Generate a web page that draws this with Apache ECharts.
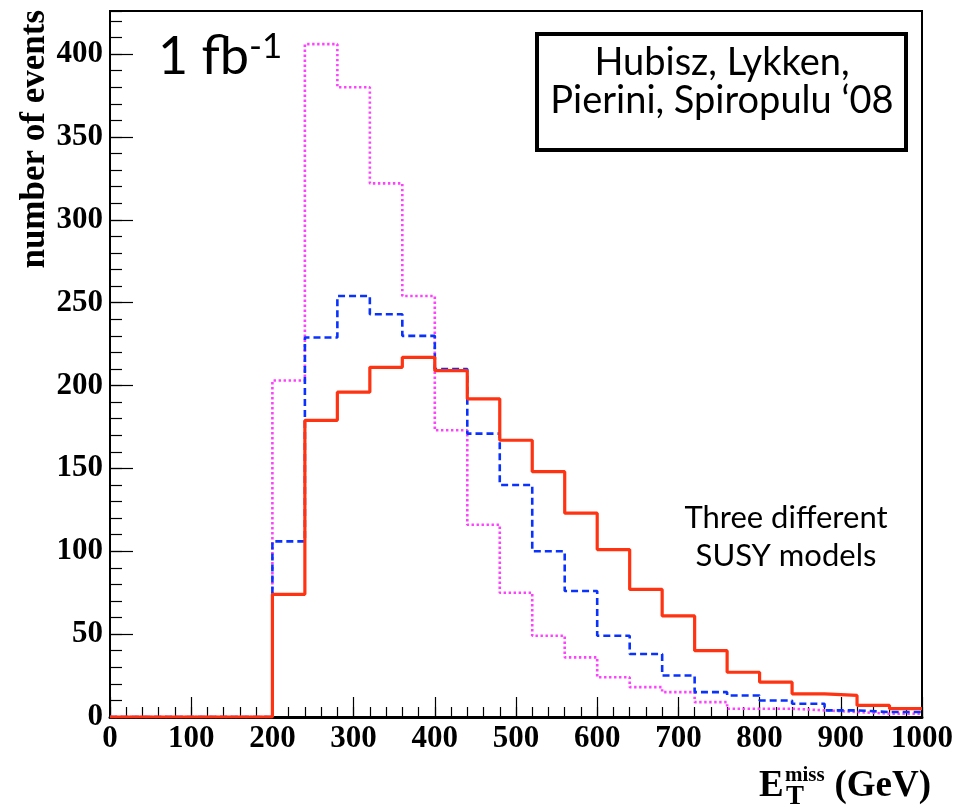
<!DOCTYPE html>
<html>
<head>
<meta charset="utf-8">
<script src="https://cdn.jsdelivr.net/npm/echarts@6/dist/echarts.min.js"></script>
<style>html,body{margin:0;padding:0;background:#fff}#c{width:978px;height:807px}</style>
</head>
<body>
<div id="c"></div>
<script>
// Bin lower edges (GeV), bin width 40 GeV, range 0-1000
const binEdges = [0,40,80,120,160,200,240,280,320,360,400,440,480,520,560,600,640,680,720,760,800,840,880,920,960,1000];
// number of events per bin
const redModel     = [0,0,0,0,0, 74,179,196,211,217, 209,192,167,148,123, 101,77,61,40,27, 21,14,13,7,5];
const blueModel    = [0,0,0,0,0, 106,229,254,243,230, 210,171,140,100,76, 49,38,25,15,13, 10,8,4,3,3];
const magentaModel = [0,0,0,0,0, 203,406,380,322,254, 173,116,75,49,36, 24,18,15,9,5, 5,4,3,2,2];
const xTicks = [0,100,200,300,400,500,600,700,800,900,1000];
const yTicks = [0,50,100,150,200,250,300,350,400];
const yMax = 426;

function histData(vals){
  const d = vals.map((v,i)=>[binEdges[i], v]);
  d.push([binEdges[vals.length], vals[vals.length-1]]);
  return d;
}

const serifBold = {fontFamily:'Liberation Serif', fontWeight:'bold', color:'#000'};
const chart = echarts.init(document.getElementById('c'), null, {renderer:'canvas'});
chart.setOption({
  animation:false,
  backgroundColor:'#fff',
  grid:{left:110, right:56, top:11, bottom:90, show:true, borderColor:'#000', borderWidth:2, backgroundColor:'transparent'},
  xAxis:[
    {type:'value', min:xTicks[0], max:xTicks[xTicks.length-1], interval:100, position:'bottom',
     axisLine:{show:true, onZero:false, lineStyle:{color:'#000', width:3}},
     axisTick:{show:true, inside:true, length:20, lineStyle:{color:'#000', width:1.2}},
     axisLabel:Object.assign({fontSize:31, margin:6,
        formatter:function(v){return xTicks.indexOf(v)>=0 ? String(v) : '';}}, serifBold),
     splitLine:{show:false}},
    {type:'value', min:0, max:1000, interval:20, position:'bottom',
     axisLine:{show:false}, axisLabel:{show:false}, splitLine:{show:false},
     axisTick:{show:true, inside:true, length:10, lineStyle:{color:'#000', width:1.2}}}
  ],
  yAxis:[
    {type:'value', min:0, max:yMax, interval:50, position:'left',
     axisLine:{show:true, onZero:false, lineStyle:{color:'#000', width:2}},
     axisTick:{show:true, inside:true, length:23, lineStyle:{color:'#000', width:1.2}},
     axisLabel:Object.assign({fontSize:31, margin:7, showMaxLabel:false,
        formatter:function(v){return yTicks.indexOf(v)>=0 ? String(v) : '';}}, serifBold),
     splitLine:{show:false}},
    {type:'value', min:0, max:yMax, interval:10, position:'left',
     axisLine:{show:false}, axisLabel:{show:false}, splitLine:{show:false},
     axisTick:{show:true, inside:true, length:12, lineStyle:{color:'#000', width:1.2}}}
  ],
  series:[
    {name:'model C', type:'line', step:'end', data:histData(magentaModel), showSymbol:false, symbol:'none',
     lineStyle:{color:'#ff40ff', width:2.6, type:[2.4,2.6]}, z:3},
    {name:'model B', type:'line', step:'end', data:histData(blueModel), showSymbol:false, symbol:'none',
     lineStyle:{color:'#0a32ff', width:2.6, type:[7,4]}, z:4},
    {name:'model A', type:'line', step:'end', data:histData(redModel), showSymbol:false, symbol:'none',
     lineStyle:{color:'#ff3311', width:3.2}, z:5}
  ],
  graphic:[
    {type:'text', x:35, y:10, rotation:Math.PI/2, z:10,
     style:{text:'number of events', font:'bold 35px "Liberation Serif"', fill:'#000', align:'right', verticalAlign:'middle'}},
    {type:'text', x:759, y:786, z:10,
     style:{text:'E', font:'bold 37px "Liberation Serif"', fill:'#000', align:'left', verticalAlign:'middle'}},
    {type:'text', x:785, y:776, z:10,
     style:{text:'miss', font:'bold 21px "Liberation Serif"', fill:'#000', align:'left', verticalAlign:'middle'}},
    {type:'text', x:786, y:797, z:10,
     style:{text:'T', font:'bold 27px "Liberation Serif"', fill:'#000', align:'left', verticalAlign:'middle'}},
    {type:'text', x:931, y:786, z:10,
     style:{text:'(GeV)', font:'bold 37px "Liberation Serif"', fill:'#000', align:'right', verticalAlign:'middle'}},
    {type:'text', x:158, y:86, z:10,
     style:{rich:{a:{fontFamily:'Lato', fontSize:52, fill:'#000'}, s:{fontFamily:'Lato', fontSize:35, fill:'#000', verticalAlign:'top', padding:[0,0,22,0]}},
            text:'{a|1 fb}{s|-1}', align:'left', verticalAlign:'bottom'}},
    {type:'rect', z:10, shape:{x:537, y:34, width:369, height:116},
     style:{fill:'#fff', stroke:'#000', lineWidth:4}},
    {type:'text', x:722, y:63, z:11,
     style:{text:'Hubisz, Lykken,', font:'38px Lato', fill:'#000', align:'center', verticalAlign:'middle'}},
    {type:'text', x:722, y:101, z:11,
     style:{text:'Pierini, Spiropulu \u201808', font:'38px Lato', fill:'#000', align:'center', verticalAlign:'middle'}},
    {type:'text', x:786, y:518, z:11,
     style:{text:'Three different', font:'31px Lato', fill:'#000', align:'center', verticalAlign:'middle'}},
    {type:'text', x:786, y:556, z:11,
     style:{text:'SUSY models', font:'31px Lato', fill:'#000', align:'center', verticalAlign:'middle'}}
  ]
});
</script>
</body>
</html>
